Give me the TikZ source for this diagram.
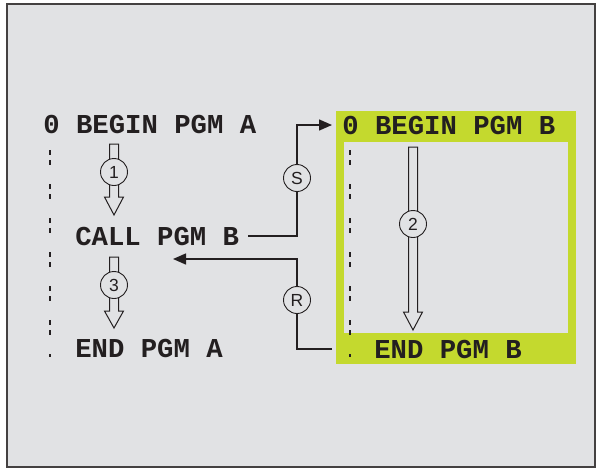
\documentclass[tikz,border=0pt]{standalone}
\usepackage{fontspec}
\setmainfont{Liberation Sans}
\newfontfamily\pgmfont{Liberation Mono}
\usetikzlibrary{arrows.meta}
\definecolor{panel}{HTML}{E1E2E4}
\definecolor{lime}{HTML}{C4D92E}
\definecolor{ink}{HTML}{231F20}

\begin{document}
\begin{tikzpicture}[x=1pt, y=-1pt, semithick,
    pgm/.style={font=\pgmfont\bfseries\fontsize{27.3}{30}\selectfont, text=ink, inner sep=0pt, anchor=base west},
    tag/.style={circle, draw=ink, line width=0.9pt, fill=panel, minimum size=27pt, inner sep=0pt, text=ink, font=\fontsize{17.5}{18}\selectfont},
    flow/.style={draw=ink, line width=1.4pt},
    hollow/.style={draw=ink, line width=1pt, fill=panel},
    trace/.style={draw=ink, line width=1.8pt, dash pattern=on 5pt off 5pt on 5pt off 19pt}]

    \useasboundingbox (0,0) rectangle (599,471);

    % Frame and program B box
    \draw[fill=panel, draw=ink!85, line width=1.6pt] (7,4) rectangle (595,467);
    \fill[lime] (336,111) rectangle (576,364);
    \fill[panel] (344,142) rectangle (568,333);

    % Program run traces
    \draw[trace] (50,150) -- (50,357);
    \draw[trace] (350,150) -- (350,357);

    % Hollow arrows
    \draw[hollow] (109.5,144) -- (118.5,144) -- (118.5,197) -- (123.5,197) -- (114,215) -- (104.5,197) -- (109.5,197) -- cycle;
    \draw[hollow] (109.5,257) -- (118.5,257) -- (118.5,311) -- (123.5,311) -- (114,328) -- (104.5,311) -- (109.5,311) -- cycle;
    \draw[hollow] (408.5,147) -- (417.5,147) -- (417.5,312) -- (422.5,312) -- (413,330) -- (403.5,312) -- (408.5,312) -- cycle;

    % Nodes
    \node[pgm] (beginA) at (43,133) {0 BEGIN PGM A};
    \node[pgm] (callB) at (75,245) {CALL PGM B};
    \node[pgm] (endA) at (75,357) {END PGM A};
    \node[pgm] (beginB) at (342,134) {0 BEGIN PGM B};
    \node[pgm] (endB) at (374,358) {END PGM B};

    \node[tag] (one) at (114,172) {1};
    \node[tag] (three) at (114,285) {3};
    \node[tag] (two) at (413,224) {2};
    \node[tag] (s) at (297,178) {S};
    \node[tag] (r) at (297,300) {R};

    \coordinate (rfrom) at (332,349);
    \coordinate (rto) at (173,259);

    % Edges
    \draw[flow] ([xshift=9pt]callB.east) -| (s);
    \draw[flow, -{Triangle[length=13pt, width=11pt]}] (s) |- ([xshift=-10pt]beginB.west);
    \draw[flow] (rfrom) -| (r);
    \draw[flow, -{Triangle[length=13pt, width=11pt]}] (r) |- (rto);

\end{tikzpicture}
\end{document}
